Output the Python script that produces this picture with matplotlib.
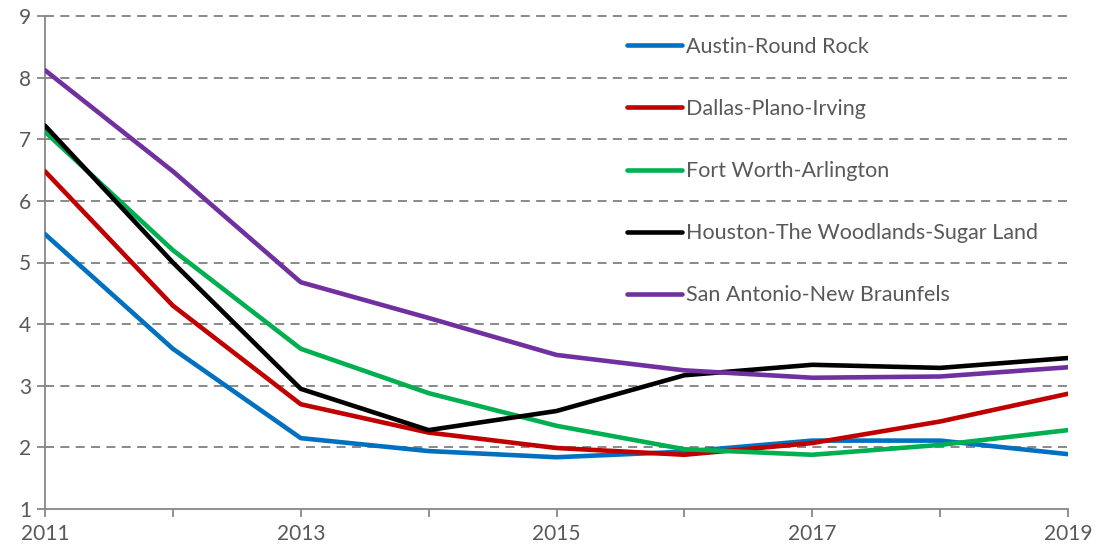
import matplotlib
matplotlib.use("Agg")
import matplotlib.pyplot as plt

years = [2011, 2012, 2013, 2014, 2015, 2016, 2017, 2018, 2019]
series_names = ["Austin-Round Rock", "Dallas-Plano-Irving", "Fort Worth-Arlington",
                "Houston-The Woodlands-Sugar Land", "San Antonio-New Braunfels"]
austin = [5.46, 3.60, 2.15, 1.94, 1.84, 1.93, 2.11, 2.11, 1.89]
dallas = [6.48, 4.30, 2.70, 2.24, 1.99, 1.88, 2.07, 2.42, 2.87]
fortworth = [7.12, 5.20, 3.60, 2.88, 2.35, 1.97, 1.88, 2.04, 2.28]
houston = [7.22, 5.00, 2.95, 2.28, 2.59, 3.17, 3.34, 3.29, 3.45]
sanantonio = [8.12, 6.48, 4.68, 4.10, 3.50, 3.25, 3.13, 3.15, 3.30]
colors = ["#0070C0", "#C00000", "#00B050", "#000000", "#7030A0"]
x_ticklabels = ["2011", "", "2013", "", "2015", "", "2017", "", "2019"]
y_ticks = [1, 2, 3, 4, 5, 6, 7, 8, 9]

plt.rcParams['font.family'] = ['Lato', 'DejaVu Sans']
fig = plt.figure(figsize=(11.01, 5.54), dpi=100)
ax = fig.add_axes([45/1101, 1-509/554, (1068-45)/1101, (509-16)/554])

for vals, name, c in zip([austin, dallas, fortworth, houston, sanantonio], series_names, colors):
    ax.plot(years, vals, color=c, lw=3.3, label=name, solid_capstyle='round', zorder=3)

ax.set_xlim(2011, 2019)
ax.set_ylim(1, 9)
ax.set_xticks(years)
ax.set_xticklabels(x_ticklabels)
ax.set_yticks(y_ticks)
ax.set_yticklabels([str(v) for v in y_ticks])
for v in y_ticks[1:]:
    ax.axhline(v, color="#808080", lw=1.3, ls=(0, (5, 3.5)), zorder=1, clip_on=False)

for s in ["top", "right"]:
    ax.spines[s].set_visible(False)
for s in ["left", "bottom"]:
    ax.spines[s].set_color("#878787")
    ax.spines[s].set_linewidth(1.3)
ax.tick_params(axis='both', colors="#878787", labelcolor="#595959", labelsize=15,
               width=1.3, length=6, direction='out')
ax.tick_params(axis='x', pad=5)
ax.tick_params(axis='y', pad=4)

leg = ax.legend(loc="upper left", bbox_to_anchor=(0.569, 0.958), frameon=False,
                fontsize=15.5, handlelength=2.56, handletextpad=0.19, labelspacing=1.96,
                borderpad=0, borderaxespad=0)
for t in leg.get_texts():
    t.set_color("#595959")

fig.savefig("out.png", dpi=100)
